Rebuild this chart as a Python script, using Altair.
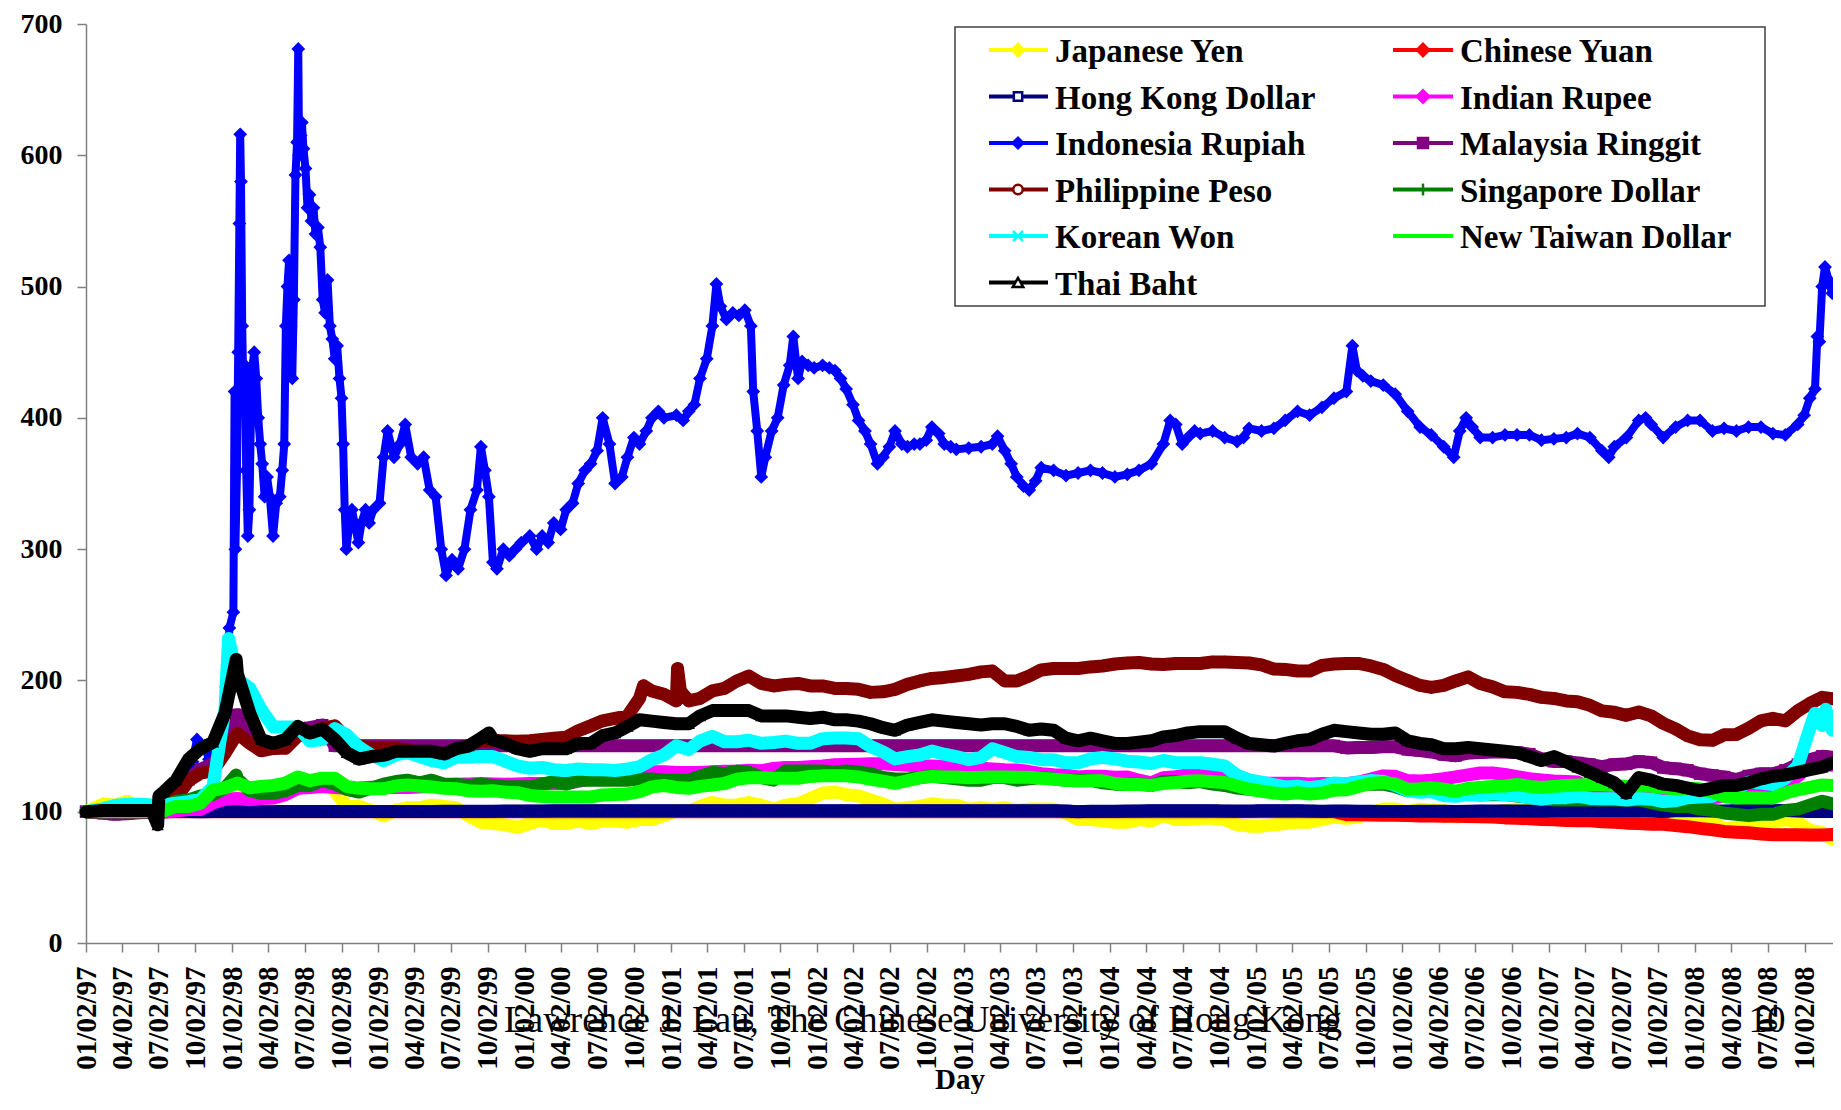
import altair as alt
import pandas as pd

# ---------------- data ----------------
names = ["Japanese Yen", "Chinese Yuan", "Hong Kong Dollar", "Indian Rupee",
         "Indonesia Rupiah", "Malaysia Ringgit", "Philippine Peso",
         "Singapore Dollar", "Korean Won", "New Taiwan Dollar", "Thai Baht"]
colors = ["#FFFF00", "#FF0000", "#000080", "#FF00FF", "#0000FF", "#800080",
          "#800000", "#008000", "#00FFFF", "#00FF00", "#000000"]

# monthly grid (x categories): Jan 2 1997, then mid-month to Dec 2008
month_dates = []
for yy in range(1997, 2009):
    for mm in range(1, 13):
        if yy == 1997 and mm == 1:
            month_dates.append("1997-01-02")
        elif yy == 2008 and mm == 12:
            month_dates.append("2008-12-10")
        else:
            month_dates.append(f"{yy}-{mm:02d}-15")

jpy = [100,106,105,108,103,98,99,102,104,104,108,112,
       111,108,111,114,116,121,121,125,116,104,104,101,
       97,101,103,103,105,104,103,97,92,91,90,88,
       91,94,91,91,93,91,93,93,92,94,94,97,
       101,100,104,107,105,105,107,105,102,105,106,110,
       114,115,113,112,109,106,102,103,104,106,105,105,
       102,103,102,103,101,102,102,102,99,94,94,93,
       92,92,94,93,97,94,94,95,95,94,90,89,
       89,90,91,92,92,94,96,95,96,99,102,102,
       100,102,101,101,96,99,100,100,101,102,101,101,
       104,104,101,102,104,106,105,101,99,100,96,97,
       93,92,87,88,90,92,92,94,92,86,84,79]

cny = [100,100,100,100,100,100,100,100,100,100,100,100,
       100,100,100,100,100,100,100,100,100,100,100,100,
       100,100,100,100,100,100,100,100,100,100,100,100,
       100,100,100,100,100,100,100,100,100,100,100,100,
       100,100,100,100,100,100,100,100,100,100,100,100,
       100,100,100,100,100,100,100,100,100,100,100,100,
       100,100,100,100,100,100,100,100,100,100,100,100,
       100,100,100,100,100,100,100,100,100,100,100,100,
       100,100,100,100,100,100,100,97.7,97.6,97.5,97.4,97.3,
       97.1,96.8,96.7,96.6,96.6,96.4,96.1,95.9,95.3,95.1,94.6,94.1,
       93.8,93.3,93.2,93.1,92.4,91.9,91.3,91.1,90.5,90.4,89.4,88.6,
       87.3,86.3,85.0,84.4,83.9,83.1,82.5,82.5,82.4,82.3,82.3,82.6]

hkd = [100,100.1,100.1,100.1,100.1,100.1,100.1,100.1,100.1,100.0,100.1,100.2,
       100.1,100.1,100.1,100.1,100.1,100.2,100.2,100.2,100.1,100.1,100.1,100.1,
       100.2,100.2,100.2,100.2,100.2,100.3,100.3,100.4,100.4,100.4,100.5,100.5,
       100.6,100.6,100.7,100.7,100.7,100.8,100.8,100.8,100.8,100.8,100.8,100.8,
       100.8,100.8,100.8,100.8,100.8,100.8,100.8,100.8,100.8,100.8,100.8,100.8,
       100.8,100.8,100.8,100.8,100.8,100.8,100.8,100.8,100.8,100.8,100.8,100.8,
       100.8,100.8,100.8,100.8,100.8,100.8,100.8,100.8,100.6,99.9,100.3,100.4,
       100.4,100.5,100.6,100.8,100.8,100.8,100.8,100.8,100.8,100.6,100.5,100.5,
       100.8,100.8,100.8,100.8,100.6,100.4,100.5,100.5,100.3,100.3,100.2,100.2,
       100.2,100.3,100.3,100.3,100.2,100.4,100.5,100.5,100.6,100.5,100.5,100.5,
       100.8,100.9,101.0,101.0,100.9,101.0,101.1,100.9,100.5,100.2,100.7,100.8,
       100.8,100.6,100.5,100.8,100.9,100.9,100.8,100.9,100.6,100.2,100.2,100.2]

inr = [100,99.8,99.9,99.8,99.8,99.7,99.6,100.5,101.7,101.7,106.5,109.5,
       110,109,110,110.5,113,117.8,118.4,119.2,118.4,117.8,118.1,118.7,
       118.4,118.4,118.4,118.9,119.5,120.3,120.9,121.2,121.4,121.2,120.9,121.2,
       121.4,121.4,121.4,121.4,123.1,124.8,124.8,127.6,128.1,129,130.4,130.4,
       129.8,129.8,129.8,130.4,130.9,130.9,131.5,131.2,132.9,133.7,133.7,134.3,
       134.8,135.7,135.9,136.2,136.5,136.5,135.9,135.4,134.8,134.8,134.5,134,
       133.7,133.1,132.6,132,131.8,130.6,129,128.1,127.9,126.5,127,127,
       126.2,126.5,124,122,125.9,126.7,128.1,129,128.4,127.3,125.3,122,
       121.7,121.7,121.7,121.7,121.2,121.4,121.2,121.4,122.6,124.8,127.3,127,
       123.7,123.4,124,125.1,126.5,128.1,129.5,129.5,128.4,126.7,125.1,124.2,
       123.4,123.1,122.6,117.8,113.6,113.4,112.5,113.6,111.4,109.7,109.7,109.7,
       109.7,110.6,112,111.4,117.5,119.2,119.2,119.5,127,135.7,136.5,135.4]

myr = [100,98.8,98,98.4,99.2,99.6,102.8,112.6,124.5,132.4,136.4,148.2,
       173.9,154.2,148.2,148.2,152.2,160.1,164,166,150.2,150.2,150.2,150.2,
       150.2,150.2,150.2,150.2,150.2,150.2,150.2,150.2,150.2,150.2,150.2,150.2,
       150.2,150.2,150.2,150.2,150.2,150.2,150.2,150.2,150.2,150.2,150.2,150.2,
       150.2,150.2,150.2,150.2,150.2,150.2,150.2,150.2,150.2,150.2,150.2,150.2,
       150.2,150.2,150.2,150.2,150.2,150.2,150.2,150.2,150.2,150.2,150.2,150.2,
       150.2,150.2,150.2,150.2,150.2,150.2,150.2,150.2,150.2,150.2,150.2,150.2,
       150.2,150.2,150.2,150.2,150.2,150.2,150.2,150.2,150.2,150.2,150.2,150.2,
       150.2,150.2,150.2,150.2,150.2,150.2,150.2,148.6,149,149,149.4,149.4,
       147.4,146.6,145.5,143.5,142.7,144.7,145.1,145.5,145.5,145.1,143.9,140.3,
       138.3,138.3,137.2,136,134.4,136,136.4,138.3,137.5,133.6,132.8,131.6,
       128.9,127.7,126.5,124.5,127.3,128.9,128.9,131.6,136,139.5,142.3,141.5]

php = [100,100,100,100,100,100,104.6,110.3,123.6,129.3,131.2,144.5,
       159.7,152.1,146.4,148.3,148.3,157.8,159.7,163.5,165.4,155.9,150.2,148.3,
       148.3,148.3,147.1,144.5,144.5,144.5,146.4,150.2,154,154,154,153.6,
       154,155.1,155.9,156.7,161.6,165.4,169.2,171.1,173,186.3,192,189.4,
       184.4,184.4,186.3,192,193.9,199.6,203.4,197.7,195.8,197,197.7,195.8,
       195.8,193.9,193.9,193.2,190.9,191.3,193.2,197,199.6,201.5,202.3,203.4,
       204.6,206.5,207.2,199.6,199.6,203.4,208,209.1,209.1,209.1,210.3,211,
       212.5,213.3,213.7,212.5,212.2,212.9,212.9,212.9,214.1,214.1,213.7,213.3,
       211.8,208.7,208.4,207.2,207.2,211.4,212.5,212.9,212.9,211,208.4,203.8,
       200,196.2,194.7,196.2,199.6,202.7,197.7,195.1,191.3,190.9,189.4,187.1,
       186.3,184.4,183.7,181,176.8,175.7,173.4,176,173,167.3,163.1,157.8,
       154.8,154.4,158.6,158.9,163.5,169.2,171.1,169.2,176.8,182.5,187.1,186]

sgd = [100,101,102,102,102,102,104,108,109,112,113,118,
       125,116,114,114,116,120,120,124,121,117,115,118,
       121,123,124,122,124,121,121,120,121,120,119,119,
       119,121,123,121,124,124,124,124,124,125,125,124,
       124,124,127,130,129,131,130,126,124,131,131,131,
       131,130,131,130,129,126,125,125,126,127,126,125,
       124,124,126,126,124,125,126,125,124,124,124,122,
       121,121,121,120,123,123,122,123,121,120,118,117,
       117,117,116,118,118,119,120,119,121,121,121,119,
       116,116,116,114,113,114,113,113,113,112,111,110,
       109,109,109,109,109,109,109,109,107,105,104,104,
       102,101,99,98,97,98,98,101,102,105,108,106]

krw = [100,102.4,104.7,105.7,105.7,105.2,105.4,106.5,107.7,109.5,119,178,
       201,194,178,164.5,164.5,164.5,153.8,155,163.3,158.6,149.1,143.2,
       139,143.2,145,142,139,137.3,141.4,141.4,142,142,138.5,134.9,
       133.1,133.7,132,131.4,132.5,132,132,131.4,132.5,134.3,139.6,143.2,
       150.3,147.3,153.8,157.4,153.3,153.3,154.4,152.1,152.7,153.8,152.1,152.1,
       155.6,156.2,156.2,155.6,149.7,145.6,140.2,142,143.2,146.2,143.8,142,
       139.6,141.4,147.9,145,142,141.4,139.6,139.6,137.3,137.3,140.2,141.4,
       140.2,138.5,137.9,136.7,139,137.3,137.3,137.3,136.1,134.9,127.8,124.3,
       122.5,120.7,118.9,119.5,118.3,119.5,121.9,121.3,122.5,123.7,123.1,120.1,
       116,114.8,115.4,112.4,111.8,113,112.4,113.6,113,112.4,110.7,109.5,
       110.7,110.7,111.8,110.1,109.8,109.8,108.9,110.1,109.5,107.7,108.3,110.7,
       111.2,111.8,116.6,117.2,122.5,121.9,120.7,125.4,134.9,163.3,165.7,162.1]

ntd = [100,100,100,100,100,100,100.7,104,104,106.5,116.4,118.2,
       121.8,118.2,119.3,120,121.8,126.5,123.6,125.5,125.5,119.3,117.8,117.5,
       117.5,119.6,120.4,119.6,118.9,117.8,117.5,116,115.6,116,114.9,114.5,
       112.4,111.6,111.3,111.3,111.3,111.3,112.7,113.1,113.5,115.3,118.9,120,
       118.5,117.8,119.3,120.4,121.5,124.7,125.8,125.8,125.5,125.5,125.5,126.9,
       127.3,127.3,127.3,126.5,124.7,123.3,121.5,123.6,125.8,126.9,126.5,126.5,
       125.8,126.2,126.5,126.5,126.2,126.2,125.5,124.7,124,123.3,123.6,123.6,
       121.5,120.7,120.7,120,121.5,122.2,123.3,123.6,122.9,122.2,119.6,117.1,
       115.6,114.2,113.5,114.5,113.5,114.2,116.4,116.7,119.3,121.5,122.2,121.1,
       117.1,117.5,118.2,117.1,115.6,117.8,118.5,119.3,119.6,120.7,119.3,118.5,
       119.3,120,120.4,120.7,120.7,120,119.3,120,119.6,118.2,117.5,117.8,
       117.5,114.9,111.6,110.5,110.5,110.5,110.5,114.2,116.7,118.5,120.4,120]

thb = [100,101,101,101,101,101,115,124,140,148,153,175,
       205,175,155,152,155,165,160,163,155,145,140,142,
       143,146,146,146,146,144,148,150,156,155,152,148,
       146,148,148,148,152,152,158,160,165,170,169,168,
       167,167,173,177,177,177,177,173,173,173,172,171,
       172,170,170,169,167,164,162,166,168,170,169,168,
       167,166,167,167,165,162,163,162,156,154,156,154,
       152,152,153,154,157,158,160,161,161,161,156,152,
       151,150,152,154,155,159,162,161,160,159,159,160,
       154,152,151,148,148,149,148,147,146,145,142,139,
       142,138,134,130,126,122,114,126,124,121,120,118,
       116,118,120,120,122,125,127,128,130,132,134,137]

# extra readings between the monthly points
thb_extra_dates = ["1997-06-30", "1997-07-03", "1998-01-12", "1999-10-05"]
thb_extra_values = [90, 112, 216, 160]
krw_extra_dates = ["1997-12-24", "2008-10-28", "2008-11-24"]
krw_extra_values = [232, 175, 178]
php_extra_dates = ["2000-10-25", "2001-01-18", "2001-01-25"]
php_extra_values = [196, 209, 192]
sgd_extra_dates = ["1998-01-12"]
sgd_extra_values = [128]

# Indonesia Rupiah: denser readings (volatile series)
idr_dates = [
 "1997-01-02","1997-02-15","1997-03-15","1997-04-15","1997-05-15","1997-06-15","1997-07-10","1997-07-25",
 "1997-08-10","1997-08-25","1997-09-10","1997-09-25","1997-10-06","1997-10-15","1997-10-25","1997-11-05",
 "1997-11-20","1997-12-01","1997-12-10","1997-12-18","1997-12-26",
 "1998-01-05","1998-01-08","1998-01-10","1998-01-14","1998-01-17","1998-01-20","1998-01-22","1998-01-24",
 "1998-01-27","1998-01-30","1998-02-03","1998-02-06","1998-02-10","1998-02-14","1998-02-18","1998-02-22",
 "1998-02-26","1998-03-03","1998-03-08","1998-03-13","1998-03-18","1998-03-24","1998-03-30","1998-04-06",
 "1998-04-14","1998-04-22","1998-05-01","1998-05-07","1998-05-12","1998-05-16","1998-05-20","1998-05-24",
 "1998-05-28","1998-06-01","1998-06-05","1998-06-09","1998-06-13","1998-06-16","1998-06-18","1998-06-22",
 "1998-06-25","1998-06-29","1998-07-04","1998-07-09","1998-07-14","1998-07-19","1998-07-24","1998-07-29",
 "1998-08-04","1998-08-10","1998-08-16","1998-08-22","1998-08-28","1998-09-03","1998-09-09","1998-09-15",
 "1998-09-21","1998-09-27","1998-10-02","1998-10-06","1998-10-10","1998-10-14","1998-10-20","1998-10-28",
 "1998-11-05","1998-11-13","1998-11-21","1998-12-01","1998-12-10","1998-12-20",
 "1999-01-05","1999-01-15","1999-01-25","1999-02-10","1999-02-25","1999-03-10","1999-03-25","1999-04-10",
 "1999-04-25","1999-05-10","1999-05-25","1999-06-08","1999-06-20","1999-07-05","1999-07-20","1999-08-05",
 "1999-08-20","1999-09-05","1999-09-15","1999-09-25","1999-10-05","1999-10-15","1999-10-25","1999-11-10",
 "1999-11-25","1999-12-10","1999-12-25",
 "2000-01-15","2000-02-01","2000-02-15","2000-03-01","2000-03-15","2000-04-01","2000-04-15","2000-05-01",
 "2000-05-15","2000-06-01","2000-06-15","2000-07-01","2000-07-15","2000-08-01","2000-08-15","2000-09-01",
 "2000-09-15","2000-10-01","2000-10-15","2000-11-01","2000-11-15","2000-12-01","2000-12-15",
 "2001-01-15","2001-02-01","2001-02-15","2001-03-01","2001-03-15","2001-04-01","2001-04-15","2001-04-25",
 "2001-05-05","2001-05-20","2001-06-05","2001-06-20","2001-07-05","2001-07-20","2001-07-26","2001-08-05",
 "2001-08-15","2001-08-25","2001-09-10","2001-09-25","2001-10-10","2001-10-25","2001-11-03","2001-11-15",
 "2001-11-25","2001-12-10","2001-12-25",
 "2002-01-15","2002-02-01","2002-02-15","2002-03-01","2002-03-15","2002-04-01","2002-04-15","2002-05-01",
 "2002-05-15","2002-06-01","2002-06-15","2002-07-01","2002-07-15","2002-08-01","2002-08-15","2002-09-01",
 "2002-09-15","2002-10-01","2002-10-15","2002-11-01","2002-11-15","2002-12-01","2002-12-15",
 "2003-01-15","2003-02-15","2003-03-15","2003-03-28","2003-04-15","2003-05-01","2003-05-15","2003-06-01",
 "2003-06-15","2003-07-01","2003-07-15","2003-08-15","2003-09-15","2003-10-15","2003-11-15","2003-12-15",
 "2004-01-15","2004-02-15","2004-03-15","2004-04-15","2004-05-15","2004-06-01","2004-06-15","2004-07-01",
 "2004-07-15","2004-08-01","2004-08-15","2004-09-15","2004-10-15","2004-11-15","2004-12-01","2004-12-15",
 "2005-01-15","2005-02-15","2005-03-15","2005-04-15","2005-05-15","2005-06-15","2005-07-15","2005-08-15",
 "2005-08-30","2005-09-10","2005-09-25","2005-10-15","2005-11-15","2005-12-15",
 "2006-01-15","2006-02-15","2006-03-15","2006-04-15","2006-05-10","2006-05-25","2006-06-10","2006-06-25",
 "2006-07-15","2006-08-15","2006-09-15","2006-10-15","2006-11-15","2006-12-15",
 "2007-01-15","2007-02-15","2007-03-15","2007-04-15","2007-05-15","2007-06-01","2007-06-15","2007-07-15",
 "2007-08-15","2007-09-01","2007-09-15","2007-10-15","2007-11-15","2007-12-15",
 "2008-01-15","2008-02-15","2008-03-15","2008-04-15","2008-05-15","2008-06-15","2008-07-15","2008-08-15",
 "2008-09-15","2008-10-01","2008-10-15","2008-10-28","2008-11-03","2008-11-08","2008-11-15","2008-11-22",
 "2008-12-01","2008-12-10"]
idr_values = [
 100,101,101,102,102,102,103,108,
 112,120,128,138,155,148,150,140,
 148,155,170,195,240,
 252,420,300,360,450,548,616,580,
 470,420,440,360,310,330,405,440,
 450,430,400,380,365,340,355,340,
 310,335,340,360,380,470,500,520,
 470,430,490,585,610,681,600,615,
 625,605,590,560,570,550,560,540,
 545,530,490,480,505,470,460,445,
 455,430,415,380,330,300,315,330,
 318,305,320,330,320,330,
 335,370,390,370,380,395,370,365,
 370,345,340,300,280,292,285,300,
 330,345,378,360,340,290,285,300,
 295,300,305,
 310,300,310,305,320,315,330,335,
 350,360,365,375,400,380,350,355,
 370,385,380,390,400,405,400,
 402,398,405,410,430,445,470,502,
 485,475,480,478,482,470,420,390,
 355,370,390,400,425,440,462,430,
 443,440,438,
 440,438,436,430,422,410,398,390,
 380,365,370,378,390,380,378,380,
 380,383,393,388,380,378,376,
 377,378,380,386,375,365,355,348,
 345,352,362,360,356,358,360,358,
 355,357,360,365,380,398,395,380,
 385,390,388,390,385,382,385,392,
 390,392,398,405,402,408,415,420,
 455,436,432,428,425,418,
 405,393,387,378,370,390,400,393,
 385,385,387,387,387,383,
 384,385,388,385,375,370,378,385,
 398,400,395,385,393,398,
 398,390,392,390,393,393,388,387,
 395,402,415,422,462,458,500,515,
 505,495]

monthly = {"Japanese Yen": jpy, "Chinese Yuan": cny, "Hong Kong Dollar": hkd,
           "Indian Rupee": inr, "Malaysia Ringgit": myr, "Philippine Peso": php,
           "Singapore Dollar": sgd, "Korean Won": krw, "New Taiwan Dollar": ntd,
           "Thai Baht": thb}
extras = {"Thai Baht": (thb_extra_dates, thb_extra_values),
          "Korean Won": (krw_extra_dates, krw_extra_values),
          "Philippine Peso": (php_extra_dates, php_extra_values),
          "Singapore Dollar": (sgd_extra_dates, sgd_extra_values)}

frames = {}
for nm in names:
    if nm == "Indonesia Rupiah":
        d, v = list(idr_dates), list(idr_values)
    else:
        d, v = list(month_dates), list(monthly[nm])
        if nm in extras:
            d += extras[nm][0]
            v += extras[nm][1]
    df = pd.DataFrame({"date": d, "value": v}).sort_values("date").reset_index(drop=True)
    frames[nm] = df

# ---------------- styles ----------------
FONT = "Liberation Serif"
marker_shape = {"Japanese Yen": "diamond", "Chinese Yuan": "diamond",
                "Hong Kong Dollar": "square", "Indian Rupee": "diamond",
                "Indonesia Rupiah": "diamond", "Malaysia Ringgit": "square",
                "Philippine Peso": "circle", "Thai Baht": "triangle-up"}

def ms(s):
    return int(pd.Timestamp(s, tz="UTC").value // 10**6)

tick_ms = [ms(f"{yy}-{mm:02d}-02") for yy in range(1997, 2009) for mm in (1, 4, 7, 10)]

x_scale = alt.Scale(type="utc", domain=[ms("1997-01-02"), ms("2008-12-12")])
y_scale = alt.Scale(domain=[0, 700], nice=False, zero=True)

x_axis = alt.Axis(values=tick_ms, labelExpr="utcFormat(datum.value, '%m/%d/%y')",
                  labelAngle=270, labelFont=FONT, labelFontWeight="bold", labelFontSize=29,
                  labelColor="black", labelPadding=14, labelOverlap=False, labelFlush=False,
                  tickSize=9, tickColor="#808080", tickWidth=1.5,
                  domainColor="#808080", domainWidth=1.5, grid=False,
                  title="Day", titleFont=FONT, titleFontWeight="bold", titleFontSize=29,
                  titleColor="black", titleY=145, titleBaseline="alphabetic")
y_axis = alt.Axis(values=list(range(0, 701, 100)), labelFont=FONT, labelFontWeight="bold",
                  labelFontSize=28, labelColor="black", labelPadding=15,
                  tickSize=9, tickColor="#808080", tickWidth=1.5,
                  domainColor="#808080", domainWidth=1.5, grid=False, title=None)

x_enc = alt.X("date:T", scale=x_scale, axis=x_axis)
y_enc = alt.Y("value:Q", scale=y_scale, axis=y_axis)

layers = []
for nm, col in zip(names, colors):
    base = alt.Chart(frames[nm])
    sw = 8 if nm == "Indonesia Rupiah" else 13
    layers.append(base.mark_line(color=col, strokeWidth=sw, strokeJoin="round",
                                 strokeCap="round").encode(x=x_enc, y=y_enc))
    if nm in marker_shape:
        sz = 190 if nm == "Indonesia Rupiah" else 150
        layers.append(base.mark_point(shape=marker_shape[nm], filled=True, color=col,
                                      size=sz, opacity=1).encode(x=x_enc, y=y_enc))

# ---------------- legend (drawn box, two columns) ----------------
one = pd.DataFrame({"k": [0]})
layers.append(alt.Chart(one).mark_rect(fill="white", stroke="#404040", strokeWidth=1.5).encode(
    x=alt.value(869), x2=alt.value(1679), y=alt.value(3), y2=alt.value(282)))

leg_rows = [26, 72.5, 119, 165.5, 212, 258.5]
leg_cols = [(903, 962, 932, 969), (1307, 1367, 1337, 1374)]
leg_marker = {
    "Japanese Yen": dict(shape="diamond", fill="#FFFF00", stroke="#FFFF00", size=150),
    "Chinese Yuan": dict(shape="diamond", fill="#FF0000", stroke="#FF0000", size=150),
    "Hong Kong Dollar": dict(shape="square", fill="white", stroke="#000080", size=70),
    "Indian Rupee": dict(shape="diamond", fill="#FF00FF", stroke="#FF00FF", size=150),
    "Indonesia Rupiah": dict(shape="diamond", fill="#0000FF", stroke="#0000FF", size=110),
    "Malaysia Ringgit": dict(shape="square", fill="#800080", stroke="#800080", size=100),
    "Philippine Peso": dict(shape="circle", fill="white", stroke="#800000", size=90),
    "Singapore Dollar": dict(shape="M0,-1L0,1", fill="#008000", stroke="#008000", size=140),
    "Korean Won": dict(shape="M-1,-1L1,1M1,-1L-1,1", fill="#00FFFF", stroke="#00FFFF", size=100),
    "Thai Baht": dict(shape="triangle-up", fill="white", stroke="#000000", size=110),
}
for i, (nm, col) in enumerate(zip(names, colors)):
    r, c = divmod(i, 2)
    ry = leg_rows[r]
    x1, x2, xm, xt = leg_cols[c]
    layers.append(alt.Chart(one).mark_rule(color=col, strokeWidth=4).encode(
        x=alt.value(x1), x2=alt.value(x2), y=alt.value(ry)))
    if nm in leg_marker:
        mk = leg_marker[nm]
        layers.append(alt.Chart(one).mark_point(shape=mk["shape"], filled=True, fill=mk["fill"],
                                                stroke=mk["stroke"], strokeWidth=2.5,
                                                size=mk["size"], opacity=1).encode(
            x=alt.value(xm), y=alt.value(ry)))
    layers.append(alt.Chart(one).mark_text(align="left", baseline="alphabetic", font=FONT,
                                           fontWeight="bold", fontSize=33, color="black").encode(
        x=alt.value(xt), y=alt.value(ry + 12), text=alt.value(nm)))

# ---------------- footer ----------------
layers.append(alt.Chart(one).mark_text(align="center", baseline="middle", font=FONT,
                                       fontSize=37, color="black").encode(
    x=alt.value(837), y=alt.value(997),
    text=alt.value("Lawrence J. Lau, The Chinese University of Hong Kong")))
layers.append(alt.Chart(one).mark_text(align="center", baseline="middle", font=FONT,
                                       fontSize=37, color="black").encode(
    x=alt.value(1681), y=alt.value(997), text=alt.value("10")))

chart = alt.layer(*layers).properties(
    width=1747, height=919,
    padding={"left": 78, "top": 16, "right": 0, "bottom": 151},
    autosize=alt.AutoSizeParams(type="none"),
    background="white",
).configure_view(stroke=None)

chart.save("out.html", embed_options={"renderer": "svg", "actions": False})
